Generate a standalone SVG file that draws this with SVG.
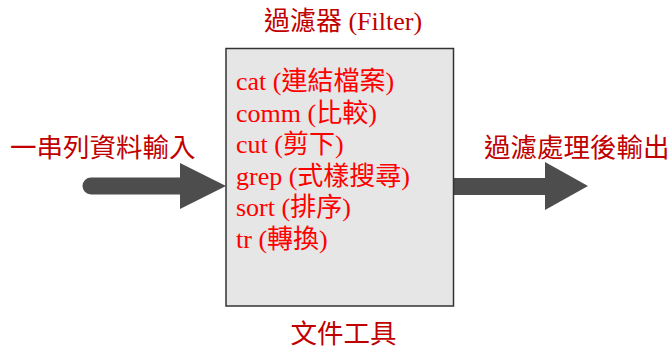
<svg xmlns="http://www.w3.org/2000/svg" width="672" height="351" viewBox="0 0 672 351">
<style>
text{font-family:"Liberation Serif","Noto Sans CJK TC",serif;}
.dark{fill:#c00000;font-size:26.5px;}
.title{fill:#c00000;font-size:26px;}
.item{fill:#ff0000;font-size:26px;}
.arrow{fill:#4d4d4d;}
</style>
<rect width="672" height="351" fill="#ffffff"/>
<g id="connectors">
  <g id="arrow-in">
    <line x1="91" y1="186" x2="184" y2="186" stroke="#4d4d4d" stroke-width="17" stroke-linecap="round"/>
    <polygon class="arrow" points="180,163 226,186 180,209"/>
  </g>
  <g id="arrow-out">
    <rect class="arrow" x="454" y="178" width="93" height="17"/>
    <polygon class="arrow" points="545,162 588,186 545,210"/>
  </g>
</g>
<g id="filter">
  <rect x="226" y="48.5" width="227.5" height="257.5" fill="#e6e6e6" stroke="#333333" stroke-width="1.5"/>
  <text class="title" x="343" y="30" text-anchor="middle">過濾器 (Filter)</text>
  <text class="item" x="236" y="90">cat (連結檔案)</text>
  <text class="item" x="236" y="121.6">comm (比較)</text>
  <text class="item" x="236" y="153.2">cut (剪下)</text>
  <text class="item" x="236" y="184.8">grep (式樣搜尋)</text>
  <text class="item" x="236" y="216.4">sort (排序)</text>
  <text class="item" x="236" y="248">tr (轉換)</text>
  <text class="dark" x="343.5" y="343" text-anchor="middle">文件工具</text>
</g>
<g id="input-label">
  <text class="dark" x="10" y="157">一串列資料輸入</text>
</g>
<g id="output-label">
  <text class="dark" x="484" y="157">過濾處理後輸出</text>
</g>
</svg>
